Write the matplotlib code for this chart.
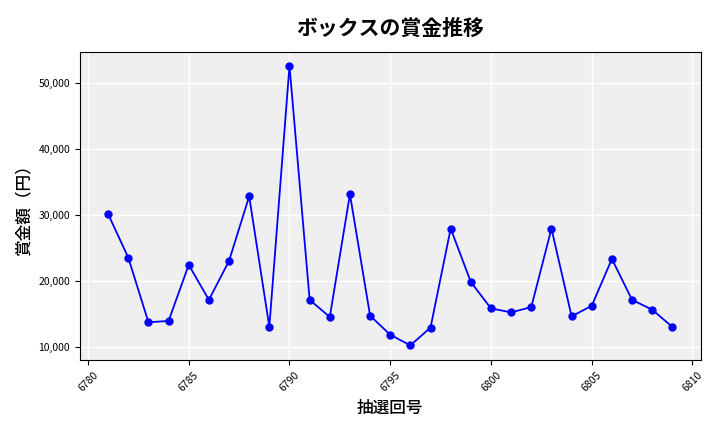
import matplotlib
matplotlib.use("Agg")
import matplotlib.pyplot as plt
from matplotlib.ticker import FuncFormatter

draws = list(range(6781, 6810))
prizes = [30100, 23500, 13700, 13900, 22400, 17100, 23000, 32800, 13000, 52600,
          17100, 14500, 33100, 14700, 11800, 10200, 12900, 27900, 19800, 15800,
          15200, 16000, 27900, 14600, 16200, 23300, 17100, 15600, 13000]

plt.rcParams["font.family"] = "Noto Sans CJK JP"
fig = plt.figure(figsize=(7.2, 4.32), dpi=100)
ax = fig.add_axes([0.111, 0.167, 0.862, 0.713])
ax.set_facecolor("#efefef")
ax.grid(True, color="white", linewidth=1)
ax.set_axisbelow(True)
ax.plot(draws, prizes, color="blue", marker="o", markersize=5, linewidth=1.3)
ax.set_xlim(6779.6, 6810.4)
ax.set_ylim(8000, 54700)
ax.set_xticks(range(6780, 6811, 5))
ax.set_yticks(range(10000, 50001, 10000))
ax.yaxis.set_major_formatter(FuncFormatter(lambda v, p: f"{int(v):,}"))
ax.tick_params(axis="x", labelrotation=45, labelsize=7.5)
ax.tick_params(axis="y", labelsize=7.5)
ax.set_title("ボックスの賞金推移", fontsize=15, fontweight="bold", pad=12)
ax.set_xlabel("抽選回号", fontsize=12, fontweight="medium")
ax.set_ylabel("賞金額（円）", fontsize=12, fontweight="medium")
fig.savefig("out.png", dpi=100)
